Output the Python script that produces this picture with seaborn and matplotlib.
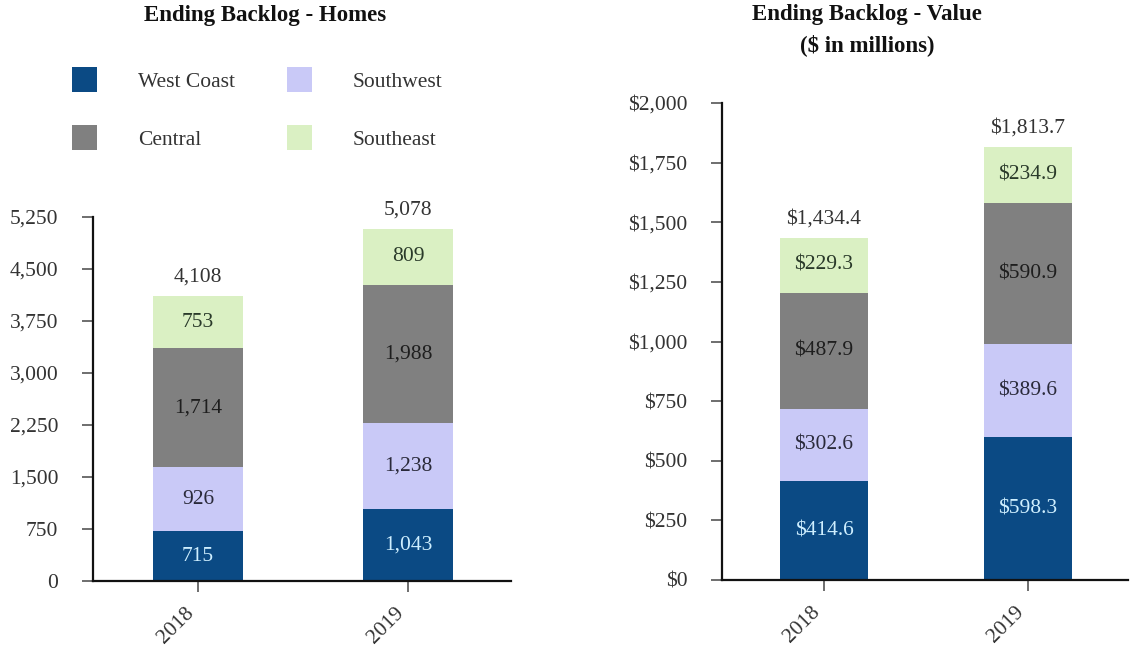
import matplotlib
matplotlib.use("Agg")
import matplotlib.pyplot as plt
import seaborn as sns
import pandas as pd
import numpy as np
from matplotlib.patches import Patch

years = ["2018", "2019"]
regions = ["West Coast", "Southwest", "Central", "Southeast"]
homes_west = [715, 1043]
homes_southwest = [926, 1238]
homes_central = [1714, 1988]
homes_southeast = [753, 809]
homes_total = [4108, 5078]
value_west = [414.6, 598.3]
value_southwest = [302.6, 389.6]
value_central = [487.9, 590.9]
value_southeast = [229.3, 234.9]
value_total = [1434.4, 1813.7]
homes_ticks = [0, 750, 1500, 2250, 3000, 3750, 4500, 5250]
value_ticks = [0, 250, 500, 750, 1000, 1250, 1500, 1750, 2000]

colors = {"West Coast": "#0B4A84", "Southwest": "#C9C9F7",
          "Central": "#808080", "Southeast": "#DAF0C3"}
label_colors = {"West Coast": "#CFEFFF", "Southwest": "#2a2a3a",
                "Central": "#1e1e1e", "Southeast": "#2a3a2a"}

sns.set_style("white")
plt.rcParams["font.family"] = ["Liberation Serif", "DejaVu Serif"]

fig = plt.figure(figsize=(11.3, 6.47), dpi=100)
ax1 = fig.add_axes([93/1130, 1-581/647, 418/1130, 364/647])
ax2 = fig.add_axes([722/1130, 1-580/647, 406/1130, 477/647])

FS = 15.5
TXT = "#333333"


def draw(ax, series, totals, fmt, ticks, tickfmt):
    df = pd.DataFrame({"year": years})
    for r, v in zip(regions, series):
        df[r] = v
    cum = df[regions].cumsum(axis=1)
    # draw from top layer down so lower layers overlay
    for r in reversed(regions):
        sns.barplot(data=pd.DataFrame({"year": years, "v": cum[r]}), x="year", y="v",
                    color=colors[r], saturation=1, width=0.43, ax=ax, linewidth=0,
                    errorbar=None)
    for i in range(len(years)):
        bottom = 0
        for r, v in zip(regions, series):
            ax.text(i, bottom + v[i] / 2, fmt(v[i]), ha="center", va="center",
                    fontsize=FS, color=label_colors[r])
            bottom += v[i]
        ax.annotate(fmt(totals[i]), (i, totals[i]), xytext=(0, 7), textcoords="offset points",
                    ha="center", va="bottom", fontsize=FS, color=TXT)
    ax.set_ylim(ticks[0], ticks[-1])
    ax.set_xlim(-0.5, 1.49)
    ax.set_yticks(ticks)
    ax.set_yticklabels([tickfmt(t) for t in ticks])
    ax.set_xticks(range(len(years)))
    ax.set_xticklabels(years, rotation=45, ha="right")
    ax.set_xlabel("")
    ax.set_ylabel("")
    for s in ["top", "right"]:
        ax.spines[s].set_visible(False)
    for s in ["left", "bottom"]:
        ax.spines[s].set_linewidth(1.6)
        ax.spines[s].set_color("#111111")
    ax.tick_params(axis="y", which="both", left=True, length=8, width=1.2, color="#555555",
                   pad=17, labelsize=FS, labelcolor=TXT)
    ax.tick_params(axis="x", which="both", bottom=True, length=8, width=1.2, color="#555555",
                   pad=8, labelsize=FS, labelcolor=TXT)


draw(ax1, [homes_west, homes_southwest, homes_central, homes_southeast], homes_total,
     lambda v: f"{v:,.0f}", homes_ticks, lambda t: f"{t:,.0f}")
draw(ax2, [value_west, value_southwest, value_central, value_southeast], value_total,
     lambda v: f"${v:,.1f}", value_ticks, lambda t: f"${t:,.0f}")

fig.text(265/1130, 1-16/647, "Ending Backlog - Homes", ha="center", va="center",
         fontsize=16.5, fontweight="bold", color="#111111")
fig.text(867/1130, 1-30/647, "Ending Backlog - Value\n($ in millions)", ha="center", va="center",
         fontsize=16.5, fontweight="bold", color="#111111", linespacing=1.5)

handles = [Patch(facecolor=colors[r], edgecolor="none") for r in regions]
# order for 2 columns: col1 West Coast, Central; col2 Southwest, Southeast
order = [0, 2, 1, 3]
fig.legend([handles[i] for i in order], [regions[i] for i in order], ncol=2,
           loc="upper left", bbox_to_anchor=(72/1130, 1-67/647), frameon=False,
           fontsize=FS, handlelength=1.15, handleheight=1.4, handletextpad=1.9,
           columnspacing=2.45, labelspacing=1.55, borderpad=0, borderaxespad=0,
           labelcolor=TXT)

fig.savefig("out.png", dpi=100)
